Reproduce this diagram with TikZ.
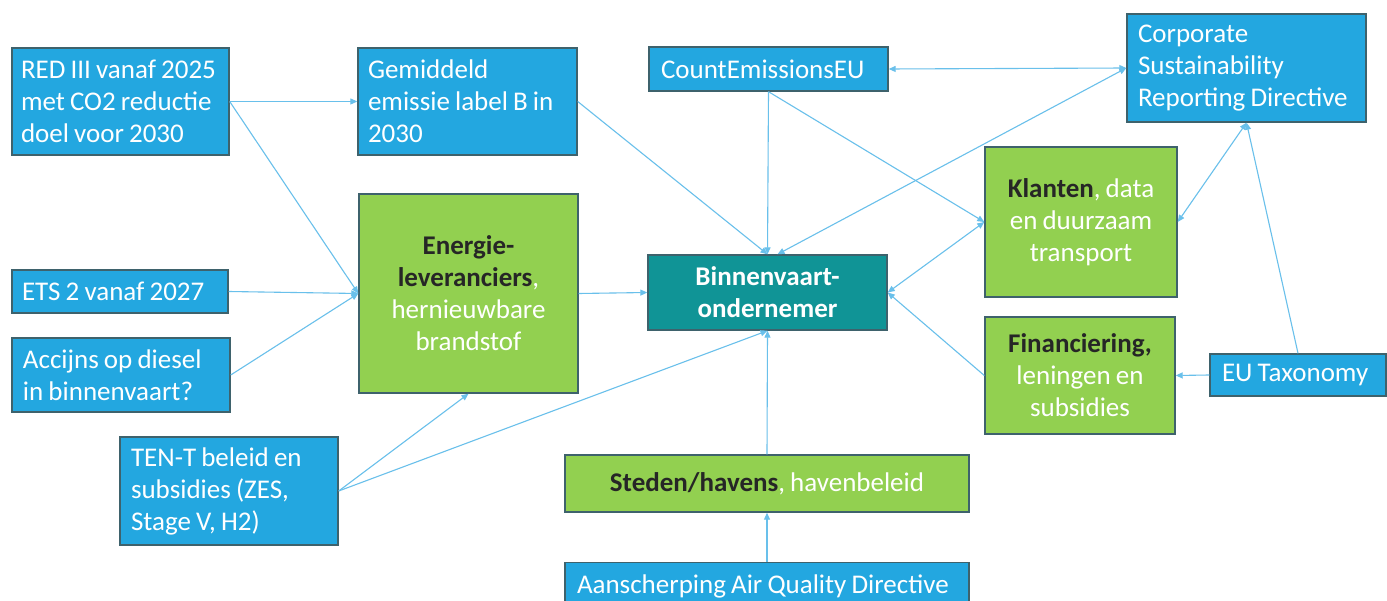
\documentclass[tikz,border=0pt]{standalone}
\usepackage{fontspec}
\setmainfont{Carlito}
\usetikzlibrary{arrows.meta,calc}
\definecolor{cblue}{RGB}{35,167,224}
\definecolor{cgreen}{RGB}{146,208,80}
\definecolor{cteal}{RGB}{16,148,150}
\definecolor{boxline}{RGB}{62,98,108}
\definecolor{cline}{RGB}{105,192,235}
\definecolor{dk}{RGB}{38,38,38}
\newcommand\narrowspaces{\spaceskip=0.19em\relax}
\begin{document}
\begin{tikzpicture}[x=1pt,y=-1pt,
  box/.style={draw=boxline, line width=1.4pt, inner sep=0pt, text=white,
    font=\fontsize{27}{32}\selectfont, execute at begin node=\narrowspaces},
  bluebox/.style={box, fill=cblue, align=left},
  greenbox/.style={box, fill=cgreen, align=center},
  tealbox/.style={box, fill=cteal, align=center, font=\fontsize{27}{32}\selectfont\bfseries},
  conn/.style={draw=cline, line width=1.1pt, -{Triangle[length=7pt,width=6pt]}},
  biconn/.style={draw=cline, line width=1.1pt, {Triangle[length=7pt,width=6pt]}-{Triangle[length=7pt,width=6pt]}}
]
\useasboundingbox (0,0) rectangle (1387,601);
\clip (0,0) rectangle (1387,601);
\fill[white] (0,0) rectangle (1387,601);

\node[bluebox, minimum width=217pt, minimum height=107pt, text width=199pt] (red) at (120.5,101.5)
  {RED III vanaf 2025\\met CO2 reductie\\doel voor 2030};
\node[bluebox, minimum width=219pt, minimum height=107pt, text width=199pt] (gem) at (467.5,101.5)
  {Gemiddeld\\emissie label B in\\2030};
\node[bluebox, minimum width=239pt, minimum height=44pt, text width=215pt] (count) at (768.5,69)
  {CountEmissionsEU};
\node[bluebox, minimum width=239pt, minimum height=108pt, text width=217pt] (csrd) at (1246.5,68)
  {Corporate\\Sustainability\\Reporting Directive};
\node[bluebox, minimum width=216pt, minimum height=43pt, text width=196pt] (ets) at (120,291.5)
  {ETS 2 vanaf 2027};
\node[bluebox, minimum width=218pt, minimum height=74pt, text width=196pt] (acc) at (121,375)
  {Accijns op diesel\\in binnenvaart?};
\node[greenbox, minimum width=219pt, minimum height=199pt, text width=205pt] (ener) at (468.5,293.5)
  {\textcolor{dk}{\textbf{Energie-}}\\\textcolor{dk}{\textbf{leveranciers}},\\hernieuwbare\\brandstof};
\node[tealbox, minimum width=239pt, minimum height=75pt, text width=225pt] (binn) at (767.5,292.5)
  {Binnenvaart-\\ondernemer};
\node[greenbox, minimum width=192pt, minimum height=150pt, text width=185pt] (klant) at (1081,222)
  {\textcolor{dk}{\textbf{Klanten}}, data\\en duurzaam\\transport};
\node[greenbox, minimum width=190pt, minimum height=117pt, text width=182pt] (fin) at (1080,375.5)
  {\textcolor{dk}{\textbf{Financiering,}}\\leningen en\\subsidies};
\node[bluebox, minimum width=176pt, minimum height=42pt, text width=152pt] (eutax) at (1298,375)
  {EU Taxonomy};
\node[bluebox, minimum width=218pt, minimum height=108pt, text width=196pt] (tent) at (229,491)
  {TEN-T beleid en\\subsidies (ZES,\\Stage V, H2)};
\node[greenbox, minimum width=404pt, minimum height=57pt, text width=390pt] (steden) at (767,483.5)
  {\textcolor{dk}{\textbf{Steden/havens}}, havenbeleid};
\node[bluebox, minimum width=404pt, minimum height=48pt, text width=380pt, anchor=north] (aan) at (767,562)
  {Aanscherping Air Quality Directive};

\draw[conn] (red.east) -- (gem.west);
\draw[conn] (red.east) -- (ener.west);
\draw[conn] (ets.east) -- (ener.west);
\draw[conn] (acc.east) -- (ener.west);
\draw[conn] (tent.east) -- (ener.south);
\draw[conn] (tent.east) -- (binn.south);
\draw[conn] (ener.east) -- (binn.west);
\draw[conn] (gem.east) -- (binn.north);
\draw[conn] (count.south) -- (binn.north);
\draw[conn] (count.south) -- (klant.west);
\draw[biconn] (count.east) -- (csrd.west);
\draw[biconn] ([xshift=10pt]binn.north) -- (csrd.west);
\draw[biconn] (klant.west) -- (binn.east);
\draw[conn] (fin.west) -- (binn.east);
\draw[biconn] (csrd.south) -- (klant.east);
\draw[conn] (eutax.north) -- (csrd.south);
\draw[conn] (eutax.west) -- (fin.east);
\draw[conn] (steden.north) -- (binn.south);
\draw[conn] (aan.north) -- (steden.south);
\end{tikzpicture}
\end{document}
